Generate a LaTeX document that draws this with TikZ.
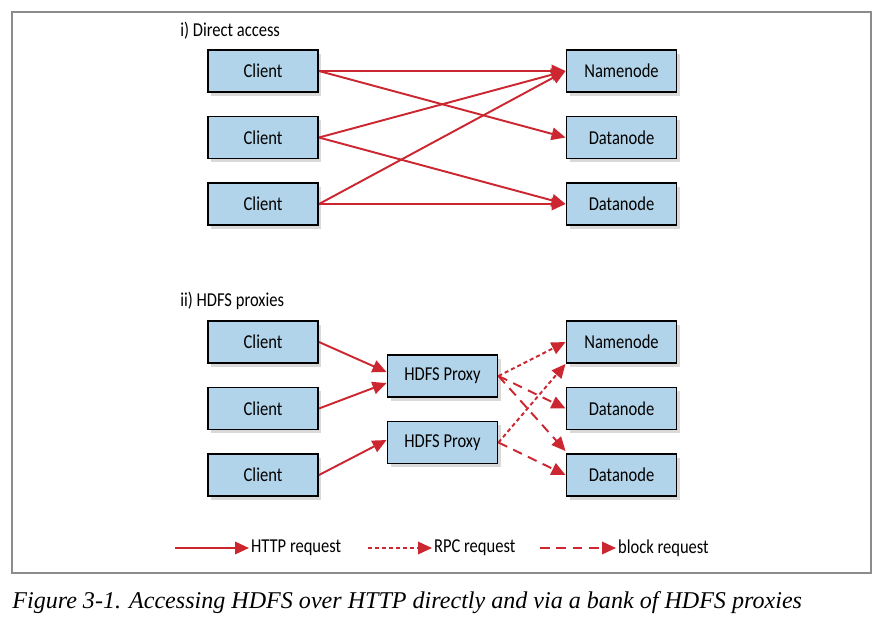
\documentclass[tikz,border=0pt]{standalone}
\usepackage{fontspec}
\setmainfont{Carlito}[FakeStretch=0.84]
\newfontfamily\capfont{Liberation Serif}
\usepackage{tikz}
\usetikzlibrary{shapes,arrows.meta,positioning,shadows}
\definecolor{boxblue}{RGB}{178,212,234}
\definecolor{arrowred}{RGB}{204,38,48}
\definecolor{framegray}{RGB}{140,140,140}
\tikzstyle{block} = [rectangle, draw, line width=1.1pt, fill=boxblue,
    minimum width=2.2cm, minimum height=0.84cm, text centered,
    drop shadow={shadow xshift=0.6mm, shadow yshift=-0.7mm, opacity=0.3}]
\tikzstyle{line} = [draw, arrowred, line width=1.1pt, -{Triangle[length=2.8mm,width=2.5mm]}]
\tikzstyle{rpc} = [line, dash pattern=on 2.3pt off 1.7pt]
\tikzstyle{blockreq} = [line, dash pattern=on 5.5pt off 3.8pt]
\tikzstyle{legend} = [anchor=west, inner sep=1pt]
\tikzstyle{heading} = [anchor=west, inner sep=0pt]

\begin{document}
\begin{tikzpicture}[node distance = 1.33cm, auto, font=\fontsize{11.2}{13}\selectfont]
    \useasboundingbox (0,0) rectangle (17.78,-12.46);
    \draw [framegray, line width=1.2pt] (0.24,-0.24) rectangle (17.42,-11.46);

    % Place nodes: direct access
    \node [heading] (titlei) at (3.6,-0.62) {i) Direct access};
    \node [block] (cla) at (5.26,-1.42) {Client};
    \node [block, below of=cla] (clb) {Client};
    \node [block, below of=clb] (clc) {Client};
    \node [block, right of=cla, node distance=7.17cm] (nn) {Namenode};
    \node [block, below of=nn] (dna) {Datanode};
    \node [block, below of=dna] (dnb) {Datanode};

    % Place nodes: proxies
    \node [heading] (titleii) at (3.6,-6.02) {ii) HDFS proxies};
    \node [block, below of=clc, node distance=2.76cm] (pcla) {Client};
    \node [block, below of=pcla] (pclb) {Client};
    \node [block, below of=pclb] (pclc) {Client};
    \node [block] (pxa) at (8.85,-7.52) {HDFS Proxy};
    \node [block, below of=pxa] (pxb) {HDFS Proxy};
    \node [block, right of=pcla, node distance=7.17cm] (pnn) {Namenode};
    \node [block, below of=pnn] (pdna) {Datanode};
    \node [block, below of=pdna] (pdnb) {Datanode};

    % Draw edges: direct access
    \path [line] (cla.east) -- (nn.west);
    \path [line] (cla.east) -- (dna.west);
    \path [line] (clb.east) -- (nn.west);
    \path [line] (clb.east) -- (dnb.west);
    \path [line] (clc.east) -- (nn.west);
    \path [line] (clc.east) -- (dnb.west);

    % Draw edges: proxies
    \path [line] (pcla.east) -- ([yshift=0.08cm]pxa.west);
    \path [line] (pclb.east) -- ([yshift=-0.14cm]pxa.west);
    \path [line] (pclc.east) -- ([yshift=0.05cm]pxb.west);
    \path [rpc] (pxa.east) -- (pnn.west);
    \path [blockreq] (pxa.east) -- (pdna.west);
    \path [blockreq] (pxa.east) -- ([yshift=0.04cm]pdnb.north west);
    \path [rpc] (pxb.east) -- (pnn.south west);
    \path [blockreq] (pxb.east) -- (pdnb.west);

    % Legend
    \coordinate (lhttpstart) at (3.5,-10.96);
    \coordinate (lrpcstart) at (7.36,-10.96);
    \coordinate (lblockstart) at (10.8,-10.96);
    \node [legend] (lhttp) at (4.98,-10.96) {HTTP request};
    \node [legend] (lrpc) at (8.64,-10.96) {RPC request};
    \node [legend] (lblock) at (12.32,-10.96) {block request};
    \path [line] (lhttpstart) -- (lhttp.west);
    \path [rpc] (lrpcstart) -- (lrpc.west);
    \path [blockreq] (lblockstart) -- (lblock.west);

    % Caption
    \node [heading, font=\capfont\itshape\fontsize{13.7}{16}\selectfont] (caption) at (0.24,-12.06)
        {Figure 3-1. Accessing HDFS over HTTP directly and via a bank of HDFS proxies};
\end{tikzpicture}
\end{document}
